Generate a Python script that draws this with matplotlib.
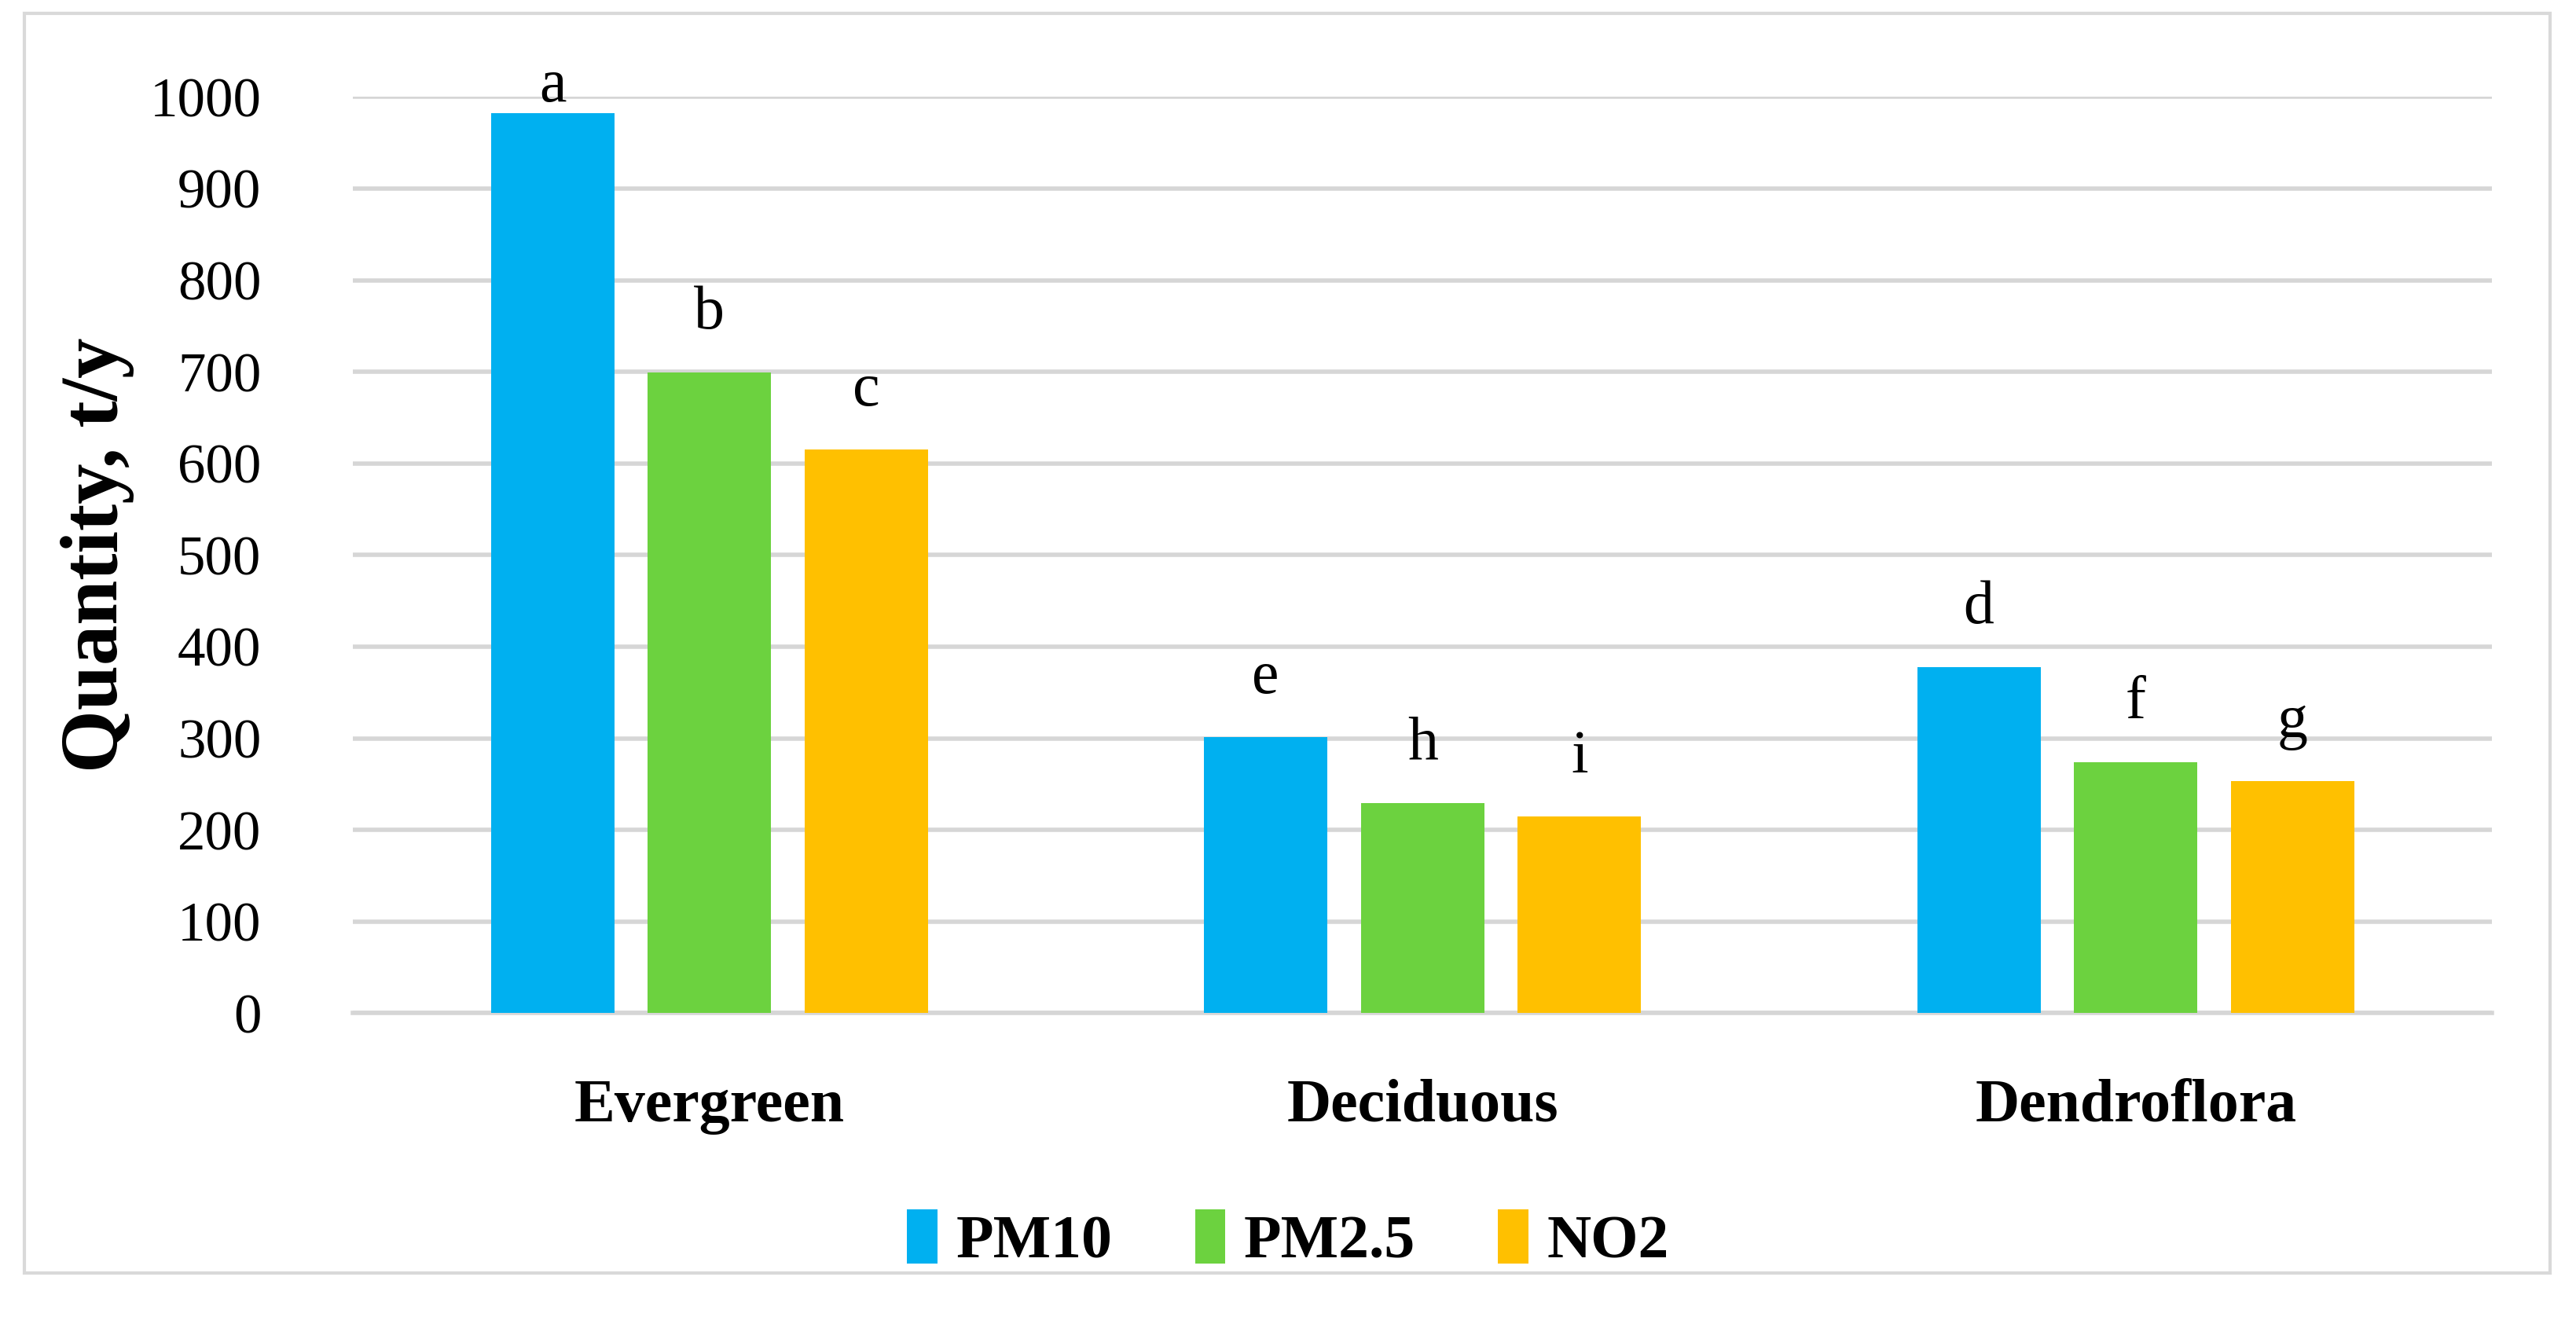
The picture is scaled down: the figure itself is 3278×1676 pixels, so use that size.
import numpy as np
import matplotlib.pyplot as plt
from matplotlib.patches import Rectangle

categories = ['Evergreen', 'Deciduous', 'Dendroflora']
series = ['PM10', 'PM2.5', 'NO2']
pm10 = [982, 301, 378]
pm25 = [699, 229, 274]
no2 = [615, 215, 253]
letters = [['a', 'e', 'd'], ['b', 'h', 'f'], ['c', 'i', 'g']]
colors = ['#00B0F0', '#6CD23F', '#FFC000']

plt.rcParams['font.family'] = ['Liberation Serif', 'DejaVu Serif']

fig = plt.figure(figsize=(16.39, 8.38), dpi=200)
ax = fig.add_axes([0.137, 0.2307, 0.8305, 0.6957])

# outer chart frame
fig.patches.append(Rectangle((0.0096, 0.0337), 0.9802, 0.9563, transform=fig.transFigure,
                             fill=False, edgecolor='#d9d9d9', linewidth=1.5))

x = np.arange(len(categories))
width = 0.173
offsets = [-0.22, 0.0, 0.22]
for i, vals in enumerate([pm10, pm25, no2]):
    ax.bar(x + offsets[i], vals, width, color=colors[i], label=series[i], zorder=3)
    for j, v in enumerate(vals):
        ax.text(x[j] + offsets[i], min(v + 48, 995), letters[i][j],
                ha='center', va='baseline', fontsize=28, clip_on=False)

ax.set_xlim(-0.5, 2.5)
ax.set_ylim(0, 1000)
ax.set_yticks(range(0, 1001, 100))
ax.set_xticks(x)
ax.set_xticklabels(categories, fontweight='bold')
ax.tick_params(axis='y', length=0, pad=42, labelsize=25.5)
ax.tick_params(axis='x', length=0, pad=30, labelsize=28)
ax.grid(axis='y', color='#d6d6d6', linewidth=2, zorder=0)
for s in ['top', 'right', 'left']:
    ax.spines[s].set_visible(False)
ax.spines['bottom'].set_color('#d6d6d6')
ax.spines['bottom'].set_linewidth(2)
ax.set_ylabel('Quantity, t/y', fontsize=37, fontweight='bold', labelpad=7)

leg = fig.legend(loc='center', bbox_to_anchor=(0.5, 0.0586), ncol=3, frameon=False,
                 prop={'size': 28, 'weight': 'bold'}, handlelength=0.5, handleheight=1.0,
                 handletextpad=0.3, columnspacing=1.35)

fig.savefig('out.png', dpi=200)
